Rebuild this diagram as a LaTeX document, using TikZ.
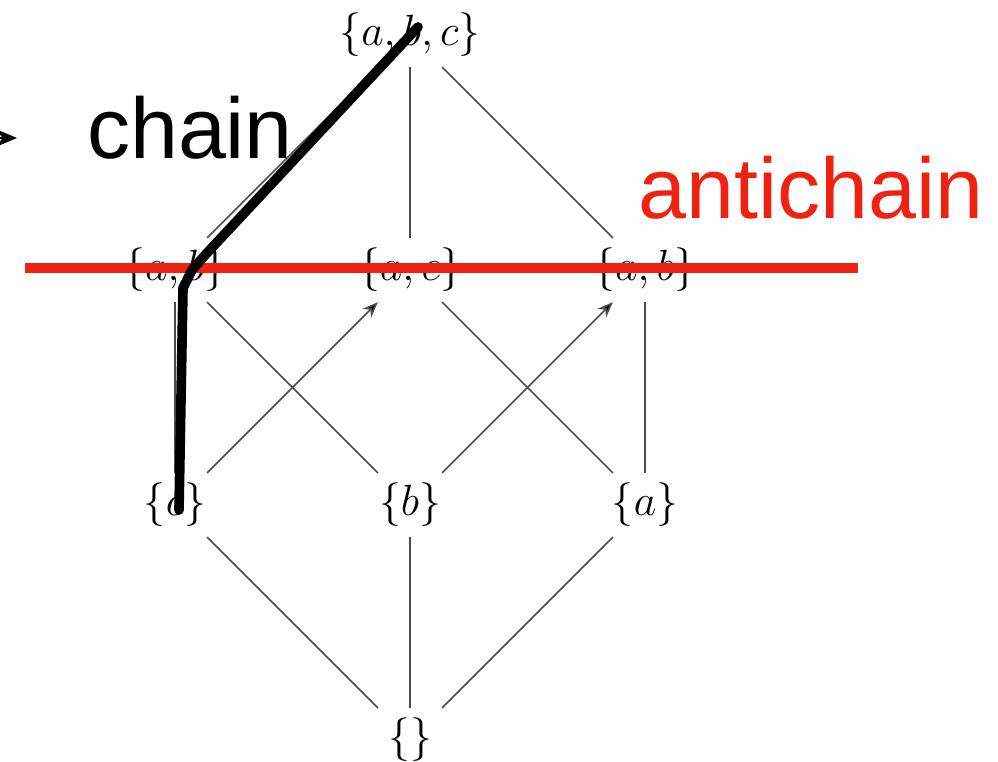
\documentclass[tikz,border=0pt]{standalone}
\usepackage{fontspec}
\newfontfamily\notefont{Liberation Sans}
\usetikzlibrary{arrows.meta}
\definecolor{antired}{RGB}{238,34,17}

\begin{document}
\begin{tikzpicture}[>={Stealth[length=9pt,width=7pt]},node distance=4.7cm,
                    set node/.style={font=\Huge,outer sep=2.5pt},
                    hasse/.style={draw=black!70,line width=0.9pt},
                    note/.style={font=\notefont\fontsize{49}{56}\selectfont}]
\useasboundingbox (0,0) rectangle (19.96,-15.24);

  \node[set node] (abc) at (8.2,-0.7) {$\{a,b,c\}$};
  \node[set node] (ac) [below of=abc] {$\{a,c\}$};
  \node[set node] (bc) [left of=ac] {$\{a,b\}$};
  \node[set node] (ab) [right of=ac] {$\{a,b\}$};
  \node[set node] (b) [below of=ac] {$\{b\}$};
  \node[set node] (c) [left of=b] {$\{c\}$};
  \node[set node] (a) [right of=b] {$\{a\}$};
  \node[set node] (e) [below of=b] {$\{\}$};

  \path[hasse]
    (abc) edge (bc)
          edge (ac)
          edge (ab)
    (bc)  edge (c)
          edge (b)
    (ac)  edge (a)
    (ab)  edge (a)
    (c)   edge [->] (ac)
    (b)   edge [->] (ab)
    (e)   edge (c)
          edge (b)
          edge (a);

  % annotations
  \node[note] (chain) at (3.8,-2.56) {chain};
  \node[note,text=antired] (antichain) at (16.22,-3.76) {antichain};

  \coordinate (red l) at (0.5,-5.36);
  \coordinate (red r) at (17.16,-5.36);
  \draw[antired,line width=5.5pt] (red l) -- (red r);

  \coordinate (ch1) at (8.36,-0.54);
  \coordinate (ch2) at (4.14,-5.06);
  \coordinate (ch3) at (3.84,-5.4);
  \coordinate (ch4) at (3.66,-5.76);
  \coordinate (ch5) at (3.58,-10.2);
  \draw[line width=5.5pt,line join=round,line cap=round] (ch1) -- (ch2) -- (ch3) -- (ch4) -- (ch5);

  \coordinate (tip s) at (-0.5,-2.76);
  \coordinate (tip e) at (0.34,-2.76);
  \draw[-{Stealth[length=12pt,width=10pt]},line width=1.2pt] (tip s) -- (tip e);
\end{tikzpicture}
\end{document}
